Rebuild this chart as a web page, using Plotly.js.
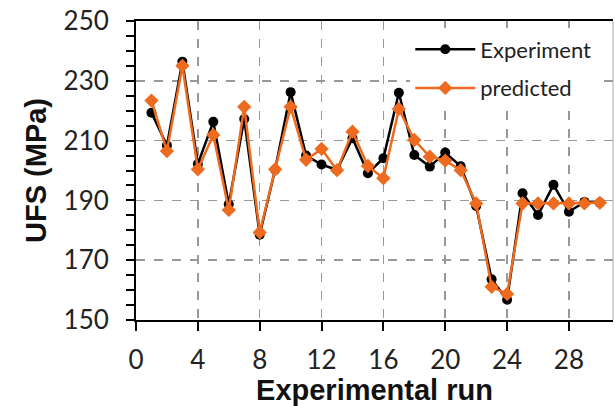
<!DOCTYPE html>
<html>
<head>
<meta charset="utf-8">
<script src="https://cdn.plot.ly/plotly-3.0.1.min.js"></script>
<style>
  html, body { margin: 0; padding: 0; background: #fff; }
  #chart { width: 615px; height: 406px; }
</style>
</head>
<body>
<div id="chart"></div>
<script>
// Experimental run numbers
const runs = [1, 2, 3, 4, 5, 6, 7, 8, 9, 10, 11, 12, 13, 14, 15,
              16, 17, 18, 19, 20, 21, 22, 23, 24, 25, 26, 27, 28, 29, 30];

// Measured UFS (MPa)
const experiment = [219.3, 208.4, 236.4, 202.2, 216.3, 188.7, 217.2, 178.5, 200.3, 226.2,
                    205.0, 202.0, 200.2, 210.8, 199.1, 204.1, 226.0, 205.2, 201.3, 206.0,
                    201.4, 188.1, 163.6, 156.8, 192.4, 185.1, 195.2, 186.2, 189.5, 189.2];

// Model-predicted UFS (MPa)
const predicted = [223.4, 206.5, 235.0, 200.4, 211.9, 186.8, 221.3, 179.3, 200.4, 221.3,
                   203.6, 207.2, 200.1, 213.0, 201.5, 197.4, 220.6, 210.2, 204.6, 203.3,
                   200.1, 189.0, 161.1, 158.7, 189.0, 189.0, 189.0, 189.0, 189.0, 189.2];

const xTicks = [0, 4, 8, 12, 16, 20, 24, 28];
const yTicks = [150, 170, 190, 210, 230, 250];

const orange = '#EE6A1E';
const tickFont = { family: 'Lato, "Open Sans", sans-serif', size: 26, color: '#222' };
const titleFont = { family: '"Liberation Sans", Arial, sans-serif', size: 29, color: '#111', weight: 'bold' };

const traces = [
  {
    x: runs, y: experiment, name: 'Experiment',
    type: 'scatter', mode: 'lines+markers',
    line: { color: '#000', width: 2.5 },
    marker: { symbol: 'circle', size: 10, color: '#000' },
    legendgroup: 'a'
  },
  {
    x: runs, y: predicted, name: 'predicted',
    type: 'scatter', mode: 'lines+markers',
    line: { color: orange, width: 2.5 },
    marker: { symbol: 'diamond', size: 11, color: orange },
    legendgroup: 'b'
  }
];

const layout = {
  width: 615, height: 406,
  margin: { l: 136, r: 2, t: 21, b: 86 },
  paper_bgcolor: '#fff', plot_bgcolor: '#fff',
  showlegend: true,
  legend: {
    x: 0.575, y: 0.975, xanchor: 'left', yanchor: 'top',
    bgcolor: 'rgba(255,255,255,1)',
    font: { family: 'Lato, "Open Sans", sans-serif', size: 22, color: '#222' },
    traceorder: 'grouped', tracegroupgap: 7,
    itemwidth: 60
  },
  xaxis: {
    range: [0, 30.85],
    tickvals: xTicks, ticktext: xTicks.map(String),
    ticks: 'outside', ticklen: 9, tickwidth: 2, tickcolor: '#000',
    showline: true, linecolor: '#000', linewidth: 2, mirror: true,
    showgrid: true, gridcolor: '#999', gridwidth: 1.5, griddash: 'dash',
    zeroline: false,
    tickfont: tickFont, ticklabelstandoff: 7,
    title: { text: 'Experimental run', font: titleFont, standoff: 6 },
    automargin: false
  },
  yaxis: {
    range: [150, 250],
    tickvals: yTicks, ticktext: yTicks.map(String),
    ticks: 'outside', ticklen: 8, tickwidth: 2, tickcolor: '#000',
    minor: { dtick: 5, ticks: 'outside', ticklen: 8, tickwidth: 2, tickcolor: '#000', showgrid: false },
    showline: true, linecolor: '#000', linewidth: 2,
    showgrid: true, gridcolor: '#999', gridwidth: 1.5, griddash: 'dash',
    zeroline: false,
    tickfont: tickFont, ticklabelstandoff: 12,
    title: { text: 'UFS (MPa)', font: titleFont, standoff: 8 },
    automargin: false
  },
  shapes: [
    // thin grey frame edge on the right of the plotting area
    { type: 'line', xref: 'paper', yref: 'paper', x0: 1, x1: 1, y0: 0, y1: 1,
      line: { color: '#aaa', width: 1 } }
  ]
};

Plotly.newPlot('chart', traces, layout, { staticPlot: true, displayModeBar: false });
</script>
</body>
</html>
